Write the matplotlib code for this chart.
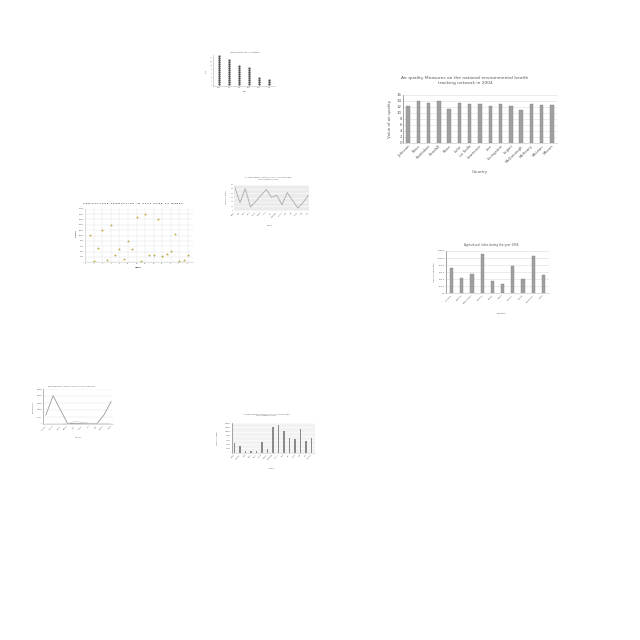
import matplotlib
matplotlib.use('Agg')
import matplotlib.pyplot as plt
import numpy as np

#################### Data ####################

# big bar chart, top right
aq_counties = ['Johnson', 'Knox', 'Kankakee', 'Kendall', 'Kane', 'Lake', 'La Salle', 'Lawrence',
               'Lee', 'Livingston', 'Logan', 'McDonough', 'McHenry', 'McLean', 'Macon']
aq_values = [12.2, 13.8, 13.3, 13.9, 11.4, 13.3, 12.9, 13.0, 12.2, 12.8, 12.2, 10.9, 12.8, 12.5, 12.6]

# dot columns, top centre
dot_labels = ['Grain', 'Fruit', 'Veg', 'Meat', 'Dairy', 'Fish']
dot_counts = [15, 13, 10, 9, 4, 3]

# scatter, agriculture production
weeks = list(range(1, 25))
tonnes = [10200, 600, 5300, 12000, 1000, 14100, 2700, 5000, 1350, 8100, 4900, 16800,
          370, 18200, 2600, 2900, 16000, 2200, 3100, 4300, 10400, 400, 1000, 2800]

# line chart with grey background
line_counties = ['Adams', 'Bond', 'Boone', 'Brown', 'Bureau', 'Calhoun', 'Carroll', 'Cass',
                 'Champaign', 'Christian', 'Clark', 'Clay', 'Clinton', 'Coles', 'Cook']
line_values = [54.5, 17.9, 50.6, 7.8, 21.0, 35.0, 49.0, 30.4, 35.0, 13.2, 41.3, 23.4, 5.5, 17.9, 35.0]

# agricultural index bars
ag_countries = ['Armenia', 'Bahrain', 'Bangladesh', 'Belarus', 'Belize', 'Benin', 'Bhutan',
                'Bolivia', 'Botswana', 'Brazil']
ag_index = [709, 425, 548, 1124, 359, 255, 784, 416, 1058, 510]

# meat production line, bottom left
meat_countries = ['Argentina', 'Australia', 'Austria', 'Belgium', 'Brazil', 'Canada', 'Chile',
                  'China', 'Denmark', 'France']
meat_a = [64000, 202000, 102000, 3000, 3000, 2000, 1000, 1000, 64000, 160000]
meat_b = [0, 0, 0, 2000, 18000, 12000, 6000, 6000, 4000, 0]

# bar chart, bottom centre
aq05_counties = ['Adams', 'Alexander', 'Bond', 'Boone', 'Brown', 'Bureau', 'Calhoun', 'Champaign',
                 'Christian', 'Clark', 'Clay', 'Clinton', 'Coles', 'Cook', 'Crawford']
aq05_values = [47700, 33400, 9500, 8000, 9500, 51000, 16000, 121000, 132000, 105000,
               68000, 64000, 111000, 57000, 72000]

#################### Figure ####################

GREY = '#595959'
fig = plt.figure(figsize=(6.4, 6.4), dpi=100)
fig.patch.set_facecolor('white')


def ax_at(x0, y0, x1, y1):
    # place an axes by pixel box (top-left origin)
    return fig.add_axes([x0 / 640, 1 - y1 / 640, (x1 - x0) / 640, (y1 - y0) / 640])


def tidy(ax, size, left='#808080', bottom='#bfbfbf'):
    for s in ['top', 'right']:
        ax.spines[s].set_visible(False)
    ax.spines['left'].set_color(left)
    ax.spines['bottom'].set_color(bottom)
    ax.spines['left'].set_linewidth(0.5)
    ax.spines['bottom'].set_linewidth(0.4)
    ax.tick_params(length=0, labelsize=size, colors=GREY, pad=0.8)
    ax.set_axisbelow(True)


def txt(x, y, s, size, **kw):
    fig.text(x / 640, 1 - y / 640, s, fontsize=size, color=GREY, ha='center', va='center', **kw)


# ---- chart 1 ----
ax1 = ax_at(403, 94.7, 557, 143)
ax1.bar(range(len(aq_values)), aq_values, width=0.34, color='#a0a0a0', edgecolor='#858585', linewidth=0.3)
ax1.set_xlim(-0.5, len(aq_values) - 0.5)
ax1.set_ylim(0, 16)
ax1.set_yticks(range(0, 17, 2))
ax1.grid(axis='y', color='#dcdcdc', linewidth=0.4)
ax1.set_xticks(range(len(aq_counties)))
ax1.set_xticklabels(aq_counties, rotation=45, ha='right', rotation_mode='anchor')
tidy(ax1, 2.8)
txt(465, 80.5, 'Air quality Measures on the national environmental health\ntracking network in 2004', 3.2,
    linespacing=1.5)
txt(390, 119, 'Value of air quality', 2.9, rotation=90)
txt(480, 172, 'Country', 2.9)

# ---- chart 2 ----
ax2 = ax_at(213, 55, 275, 86)
for i, n in enumerate(dot_counts):
    ax2.scatter([i] * n, range(1, n + 1), s=2.6, color='#505050', linewidths=0)
ax2.set_xlim(-0.6, len(dot_counts) - 0.4)
ax2.set_ylim(0, 15.5)
ax2.set_xticks(range(len(dot_labels)))
ax2.set_xticklabels(dot_labels)
ax2.set_yticks(range(0, 16, 2))
tidy(ax2, 1.0, left='#bfbfbf')
txt(245, 52, 'Total production by crop category', 1.3)
txt(206, 71, 'Units', 1.2, rotation=90)
txt(245, 91.5, 'Crop', 1.2)

# ---- chart 3 ----
ax3 = ax_at(85.3, 208.7, 193, 262.3)
ax3.scatter(weeks, tonnes, s=5, marker='*', color='#b8a53a', linewidths=0)
ax3.set_xlim(0, 25.2)
ax3.set_ylim(0, 20000)
ax3.set_xticks(range(0, 26, 2))
ax3.set_yticks(range(0, 20001, 2000))
ax3.grid(color='#e3e3e3', linewidth=0.35)
tidy(ax3, 1.1, left='#d0d0d0', bottom='#d0d0d0')
txt(133, 203, 'A G R I C U L T U R E   P R O D U C T I O N   I N   2 0 1 6   O V E R   2 4   W E E K S', 1.6,
    fontweight='bold')
txt(138, 268, 'WEEKS', 1.3, fontweight='bold')
txt(77, 234, 'TONNES', 1.3, fontweight='bold', rotation=90)

# ---- chart 4 ----
ax4 = ax_at(233.7, 184.7, 309.3, 210.3)
ax4.set_facecolor('#ebebeb')
ax4.plot(range(len(line_values)), line_values, color='#ababab', linewidth=0.6)
ax4.set_xlim(-0.2, len(line_values) - 0.8)
ax4.set_ylim(0, 60)
ax4.set_yticks(range(0, 61, 10))
ax4.set_xticks(range(len(line_counties)))
ax4.set_xticklabels(line_counties, rotation=45, ha='right', rotation_mode='anchor')
ax4.grid(axis='y', color='white', linewidth=0.4)
tidy(ax4, 1.0, left='#ebebeb', bottom='#ebebeb')
txt(268, 178, 'Air quality Measures on the national environmental health\ntracking network in 2004', 1.2,
    linespacing=1.4)
txt(226, 197, 'Value of air quality', 1.1, rotation=90)
txt(270, 225.5, 'Country', 1.2)

# ---- chart 5 ----
ax5 = ax_at(446, 251, 549, 293.3)
ax5.bar(range(len(ag_index)), ag_index, width=0.32, color='#a0a0a0', edgecolor='#858585', linewidth=0.3)
ax5.set_xlim(-0.55, len(ag_index) - 0.45)
ax5.set_ylim(0, 1200)
ax5.set_yticks(range(0, 1201, 200))
ax5.set_yticklabels([f'{v:.1f}' for v in range(0, 1201, 200)])
ax5.set_xticks(range(len(ag_countries)))
ax5.set_xticklabels(ag_countries, rotation=45, ha='right', rotation_mode='anchor')
ax5.grid(axis='y', color='#dcdcdc', linewidth=0.4)
tidy(ax5, 1.5)
txt(491, 245, 'Agricultural index during the year 1966', 2.0)
txt(434, 272, 'Agricultural index', 1.6, rotation=90)
txt(502, 313.5, 'Country', 1.7)

# ---- chart 6 ----
ax6 = ax_at(43.3, 389, 113.3, 424)
ax6.plot(range(len(meat_a)), meat_a, color='#9a9a9a', linewidth=0.6)
ax6.plot(range(len(meat_b)), meat_b, color='#c8c8c8', linewidth=0.4)
ax6.set_xlim(-0.35, len(meat_a) - 0.7)
ax6.set_ylim(0, 250000)
ax6.set_yticks(range(0, 250001, 50000))
ax6.set_yticklabels([f'{v:,}' for v in range(0, 250001, 50000)])
ax6.set_xticks(range(len(meat_countries)))
ax6.set_xticklabels(meat_countries, rotation=45, ha='right', rotation_mode='anchor')
ax6.grid(axis='y', color='#e3e3e3', linewidth=0.35)
tidy(ax6, 1.0, left='#9a9a9a')
txt(72, 386, 'Meat production by countries production for the year 1979', 1.2)
txt(33, 407, 'Meat production', 1.0, rotation=90)
txt(78, 437, 'Countries', 1.0)

# ---- chart 7 ----
ax7 = ax_at(231.7, 423.3, 315, 452.7)
ax7.set_facecolor('#f2f2f2')
ax7.bar(range(len(aq05_values)), aq05_values, width=0.28, color='#8a8a8a', linewidth=0)
ax7.set_xlim(-0.55, len(aq05_values) - 0.4)
ax7.set_ylim(0, 140000)
ax7.set_yticks(range(0, 140001, 20000))
ax7.set_yticklabels([f'{v:,}' for v in range(0, 140001, 20000)])
ax7.set_xticks(range(len(aq05_counties)))
ax7.set_xticklabels(aq05_counties, rotation=45, ha='right', rotation_mode='anchor')
ax7.grid(axis='y', color='white', linewidth=0.4)
tidy(ax7, 1.0, left='#808080', bottom='#d0d0d0')
txt(266, 415, 'Air quality Measures on the national environmental health\ntracking network in 2005', 1.2,
    linespacing=1.4)
txt(217, 438, 'Value of air quality', 1.1, rotation=90)
txt(272, 468, 'Country', 1.1)

fig.savefig('out.png', dpi=100, facecolor='white')
